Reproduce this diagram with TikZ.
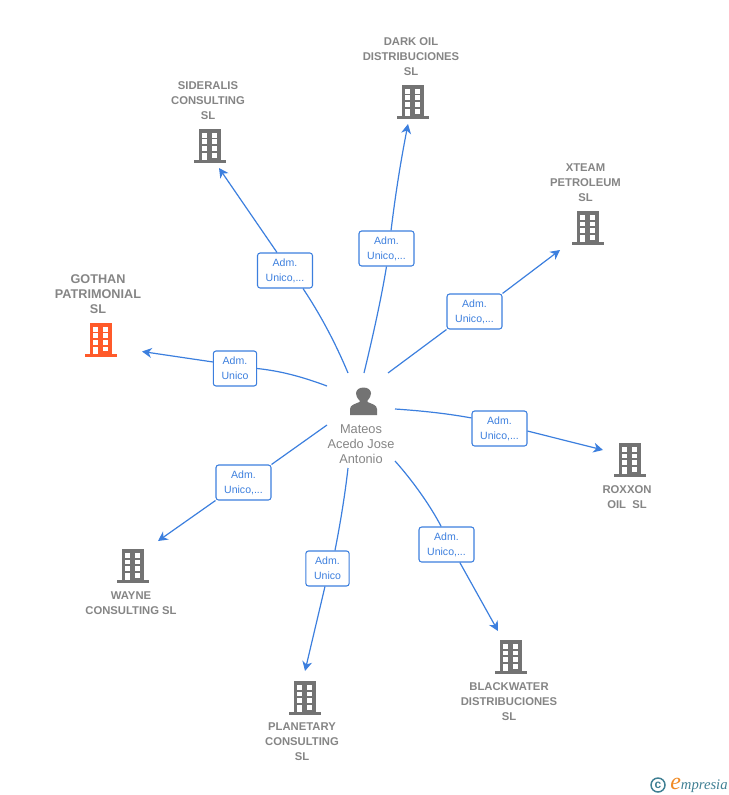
\documentclass[tikz,border=0pt]{standalone}
\usepackage{fontspec}
\setmainfont{Liberation Sans}
\newfontfamily\logofont{Liberation Serif}
\usetikzlibrary{arrows.meta}
\definecolor{linkblue}{HTML}{3C7FDE}
\definecolor{labelgrey}{HTML}{858585}
\definecolor{bldgrey}{HTML}{737373}
\definecolor{bldorange}{HTML}{FF5A2A}
\definecolor{logoteal}{HTML}{3F7F93}
\definecolor{logoorange}{HTML}{F08A24}
\tikzset{
  x=0.75pt,y=-0.75pt,
  link/.style={draw=linkblue,line width=0.9pt},
  arrowlink/.style={link,-{Stealth[length=7.2pt,width=7.4pt,inset=2.2pt]}},
  role/.style={draw=linkblue,line width=0.8pt,fill=white,rounded corners=2pt,minimum height=26.25pt,inner sep=0pt,align=center,text=linkblue,font=\fontsize{7.9}{11.25}\selectfont},
  wide/.style={role,minimum width=41.25pt},
  narrow/.style={role,minimum width=32.5pt},
  company/.style={align=center,inner sep=0pt,text=labelgrey,font=\fontsize{8.45}{11.25}\selectfont\bfseries},
  lead/.style={company,font=\fontsize{9.5}{11.25}\selectfont\bfseries},
  person/.style={align=center,inner sep=0pt,text=labelgrey,font=\fontsize{9.6}{11.25}\selectfont},
  pics/building/.style={code={
    \fill[#1] (-11,-34) rectangle (11,-2);
    \fill[#1] (-16,-2.6) rectangle (16,0);
    \fill[white] (-7.6,-30.2) rectangle (-2.6,-25.2);
    \fill[white] (2.2,-30.2) rectangle (7.4,-25.2);
    \fill[white] (-7.6,-23.5) rectangle (-2.6,-18.7);
    \fill[white] (2.2,-23.5) rectangle (7.4,-18.7);
    \fill[white] (-7.6,-16.8) rectangle (-2.6,-12);
    \fill[white] (2.2,-16.8) rectangle (7.4,-12);
    \fill[white] (-7.6,-10.1) rectangle (-2.6,-2.6);
    \fill[white] (2.2,-10.1) rectangle (7.4,-5.4);
  }}
}
\begin{document}
\begin{tikzpicture}
\path[use as bounding box] (0,0) rectangle (728,795);

% buildings
\pic (bgothan) at (101,356.7) {building=bldorange};
\pic (bsider) at (210,163) {building=bldgrey};
\pic (bdark) at (412.5,119) {building=bldgrey};
\pic (bxteam) at (588,245) {building=bldgrey};
\pic (brox) at (629.5,477) {building=bldgrey};
\pic (bwayne) at (133,583) {building=bldgrey};
\pic (bplan) at (304.5,715) {building=bldgrey};
\pic (bblack) at (511,674) {building=bldgrey};

% company labels
\node[lead] (gothan) at (98,294) {GOTHAN\\PATRIMONIAL\\SL};
\node[company] (sider) at (208,101) {SIDERALIS\\CONSULTING\\SL};
\node[company] (dark) at (411,57) {DARK OIL\\DISTRIBUCIONES\\SL};
\node[company] (xteam) at (585.5,183) {XTEAM\\PETROLEUM\\SL};
\node[company] (rox) at (627,497.5) {ROXXON\\OIL\ \ SL};
\node[company] (wayne) at (131,603.5) {WAYNE\\CONSULTING SL};
\node[company] (plan) at (302,742) {PLANETARY\\CONSULTING\\SL};
\node[company] (black) at (509,702) {BLACKWATER\\DISTRIBUCIONES\\SL};

% person
\fill[bldgrey] (350,415) -- (350,409) .. controls (350,405) and (355,404) .. (359.5,402)
  -- (359.5,400.5) .. controls (357,398) and (356,395) .. (356,393.5)
  .. controls (356,390) and (359,387.5) .. (363.5,387.5)
  .. controls (368,387.5) and (371,390) .. (371,393.5)
  .. controls (371,395) and (370,398) .. (367.5,400.5)
  -- (367.5,402) .. controls (372,404) and (377,405) .. (377,409) -- (377,415) -- cycle;
\node[person] (hub) at (361,444) {Mateos\\Acedo Jose\\Antonio};

% free ends
\coordinate (s1) at (327,386); \coordinate (t1) at (142,351.5);
\coordinate (s2) at (348,373); \coordinate (t2) at (219,168);
\coordinate (s3) at (364,373); \coordinate (t3) at (408,124);
\coordinate (s4) at (388,373); \coordinate (t4) at (560,250);
\coordinate (s5) at (395,409); \coordinate (t5) at (603,450);
\coordinate (s6) at (395,461); \coordinate (t6) at (498,631);
\coordinate (s7) at (348,468); \coordinate (t7) at (305,671);
\coordinate (s8) at (327,425); \coordinate (t8) at (158,541);

% role boxes
\node[narrow] (r1) at (235,368.5) {Adm.\\Unico};
\node[wide] (r2) at (285,270.5) {Adm.\\Unico,...};
\node[wide] (r3) at (386.5,248.5) {Adm.\\Unico,...};
\node[wide] (r4) at (474.5,311.5) {Adm.\\Unico,...};
\node[wide] (r5) at (499.5,428.5) {Adm.\\Unico,...};
\node[wide] (r6) at (446.5,544.5) {Adm.\\Unico,...};
\node[narrow] (r7) at (327.5,568.5) {Adm.\\Unico};
\node[wide] (r8) at (243.5,482.5) {Adm.\\Unico,...};

% connectors
\draw[link] (s1) .. controls (300,376) and (280,371) .. (r1.east);
\draw[arrowlink] ([yshift=4.9pt]r1.west) -- (t1);
\draw[link] (s2) .. controls (335,342) and (320,314) .. ([xshift=13.5pt]r2.south);
\draw[arrowlink] ([xshift=-6pt]r2.north) -- (t2);
\draw[link] (s3) .. controls (372,340) and (381,300) .. (r3.south);
\draw[arrowlink] ([xshift=3.4pt]r3.north) .. controls (396,190) and (401,160) .. (t3);
\draw[link] (s4) -- (r4.south west);
\draw[arrowlink] (r4.north east) -- (t4);
\draw[link] (s5) .. controls (425,411) and (450,414) .. ([yshift=7.9pt]r5.west);
\draw[arrowlink] ([yshift=-1.9pt]r5.east) -- (t5);
\draw[link] (s6) .. controls (412,480) and (430,505) .. ([xshift=-4pt]r6.north);
\draw[arrowlink] ([xshift=10pt]r6.south) -- (t6);
\draw[link] (s7) .. controls (345,495) and (340,525) .. ([xshift=5.6pt]r7.north);
\draw[arrowlink] ([xshift=-1.9pt]r7.south) -- (t7);
\draw[link] (s8) -- (r8.north east);
\draw[arrowlink] (r8.south west) -- (t8);

% logo
\node[circle,draw=logoteal,line width=1.1pt,minimum size=10.5pt,inner sep=0pt,text=logoteal,font=\fontsize{9}{9}\selectfont\bfseries] (copy) at (658,785) {c};
\node[anchor=base west,inner sep=0pt,text=logoteal,font=\logofont\fontsize{11}{12}\selectfont\itshape] (brand) at (670,789) {\textcolor{logoorange}{\fontsize{18}{12}\selectfont e}mpresia};
\end{tikzpicture}
\end{document}
